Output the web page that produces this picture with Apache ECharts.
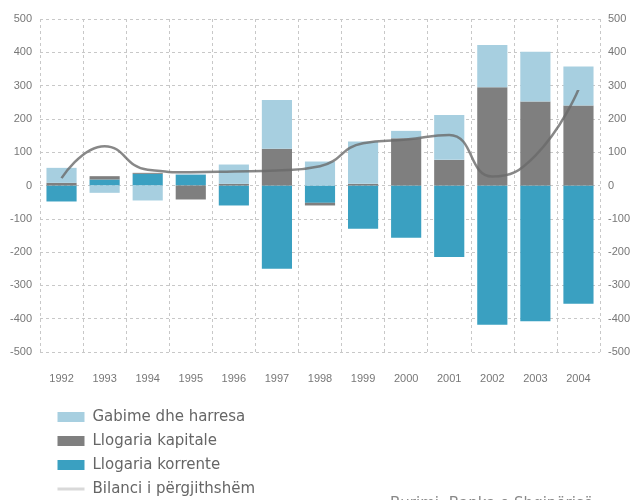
<!DOCTYPE html>
<html>
<head>
<meta charset="utf-8">
<script src="https://cdn.jsdelivr.net/npm/echarts@6/dist/echarts.min.js"></script>
<style>
html,body{margin:0;padding:0;background:#fff;}
#chart{width:640px;height:500px;}
</style>
</head>
<body>
<div id="chart"></div>
<script>
const years = ['1992','1993','1994','1995','1996','1997','1998','1999','2000','2001','2002','2003','2004'];
const korrente = [-48, 18, 35, 32, -60, -250, -52, -130, -157, -215, -418, -408, -355];
const kapitale = [8, 10, 3, -42, 5, 110, -8, 5, 142, 77, 295, 252, 240];
const gabime = [45, -22, -45, 3, 58, 147, 72, 127, 22, 135, 127, 150, 117];
const bilanci = [22, 118, 47, 40, 42, 45, 58, 127, 138, 152, 27, 90, 288];
const yTicks = { min: -500, max: 500, step: 100 };

const chart = echarts.init(document.getElementById('chart'));
const C_LIGHT = '#a7cfe0';
const C_GREY = '#7f7f7f';
const C_TEAL = '#3aa0c1';
const dash = { color: '#c8c8c8', type: [3, 3], width: 1 };
const yAxisBase = {
  type: 'value', min: yTicks.min, max: yTicks.max, interval: yTicks.step,
  axisLine: { show: false }, axisTick: { show: false },
  axisLabel: { color: '#777', fontSize: 11, fontFamily: 'Liberation Sans' }
};
chart.setOption({
  animation: false,
  grid: { left: 40, right: 40, top: 19, bottom: 148 },
  legend: {
    orient: 'vertical', left: 56, top: 409, padding: 0,
    itemWidth: 27, itemHeight: 10, itemGap: 8,
    textStyle: { color: '#666', fontSize: 15, fontFamily: 'DejaVu Sans', lineHeight: 16, padding: [0, 0, 0, 3] },
    data: [
      { name: 'Gabime dhe harresa', icon: 'rect' },
      { name: 'Llogaria kapitale', icon: 'rect' },
      { name: 'Llogaria korrente', icon: 'rect' },
      { name: 'Bilanci i përgjithshëm', itemStyle: { color: '#cfcfcf', opacity: 0 }, lineStyle: { color: '#cfcfcf', width: 3 } }
    ]
  },
  xAxis: {
    type: 'category', data: years, position: 'bottom',
    axisLine: { show: false }, axisTick: { show: false },
    axisLabel: { color: '#777', fontSize: 11, margin: 21, fontFamily: 'Liberation Sans' },
    splitLine: { show: true, lineStyle: dash }
  },
  yAxis: [
    Object.assign({}, yAxisBase, { position: 'left', splitLine: { show: true, lineStyle: dash } }),
    Object.assign({}, yAxisBase, { position: 'right', splitLine: { show: false } })
  ],
  series: [
    { name: 'Llogaria korrente', type: 'bar', stack: 'a', data: korrente, barWidth: '70%', itemStyle: { color: C_TEAL } },
    { name: 'Llogaria kapitale', type: 'bar', stack: 'a', data: kapitale, barWidth: '70%', itemStyle: { color: C_GREY } },
    { name: 'Gabime dhe harresa', type: 'bar', stack: 'a', data: gabime, barWidth: '70%', itemStyle: { color: C_LIGHT } },
    { name: 'Bilanci i përgjithshëm', type: 'line', data: bilanci, smooth: 0.5, symbol: 'none',
      lineStyle: { color: '#6a6a6a', width: 2.5, opacity: 0.8 }, itemStyle: { color: '#6a6a6a' }, z: 5 }
  ],
  graphic: [
    { type: 'text', left: 390, top: 497, style: { text: 'Burimi: Banka e Shqipërisë', fill: '#888', font: '15px "DejaVu Sans"' } }
  ]
});
</script>
</body>
</html>
